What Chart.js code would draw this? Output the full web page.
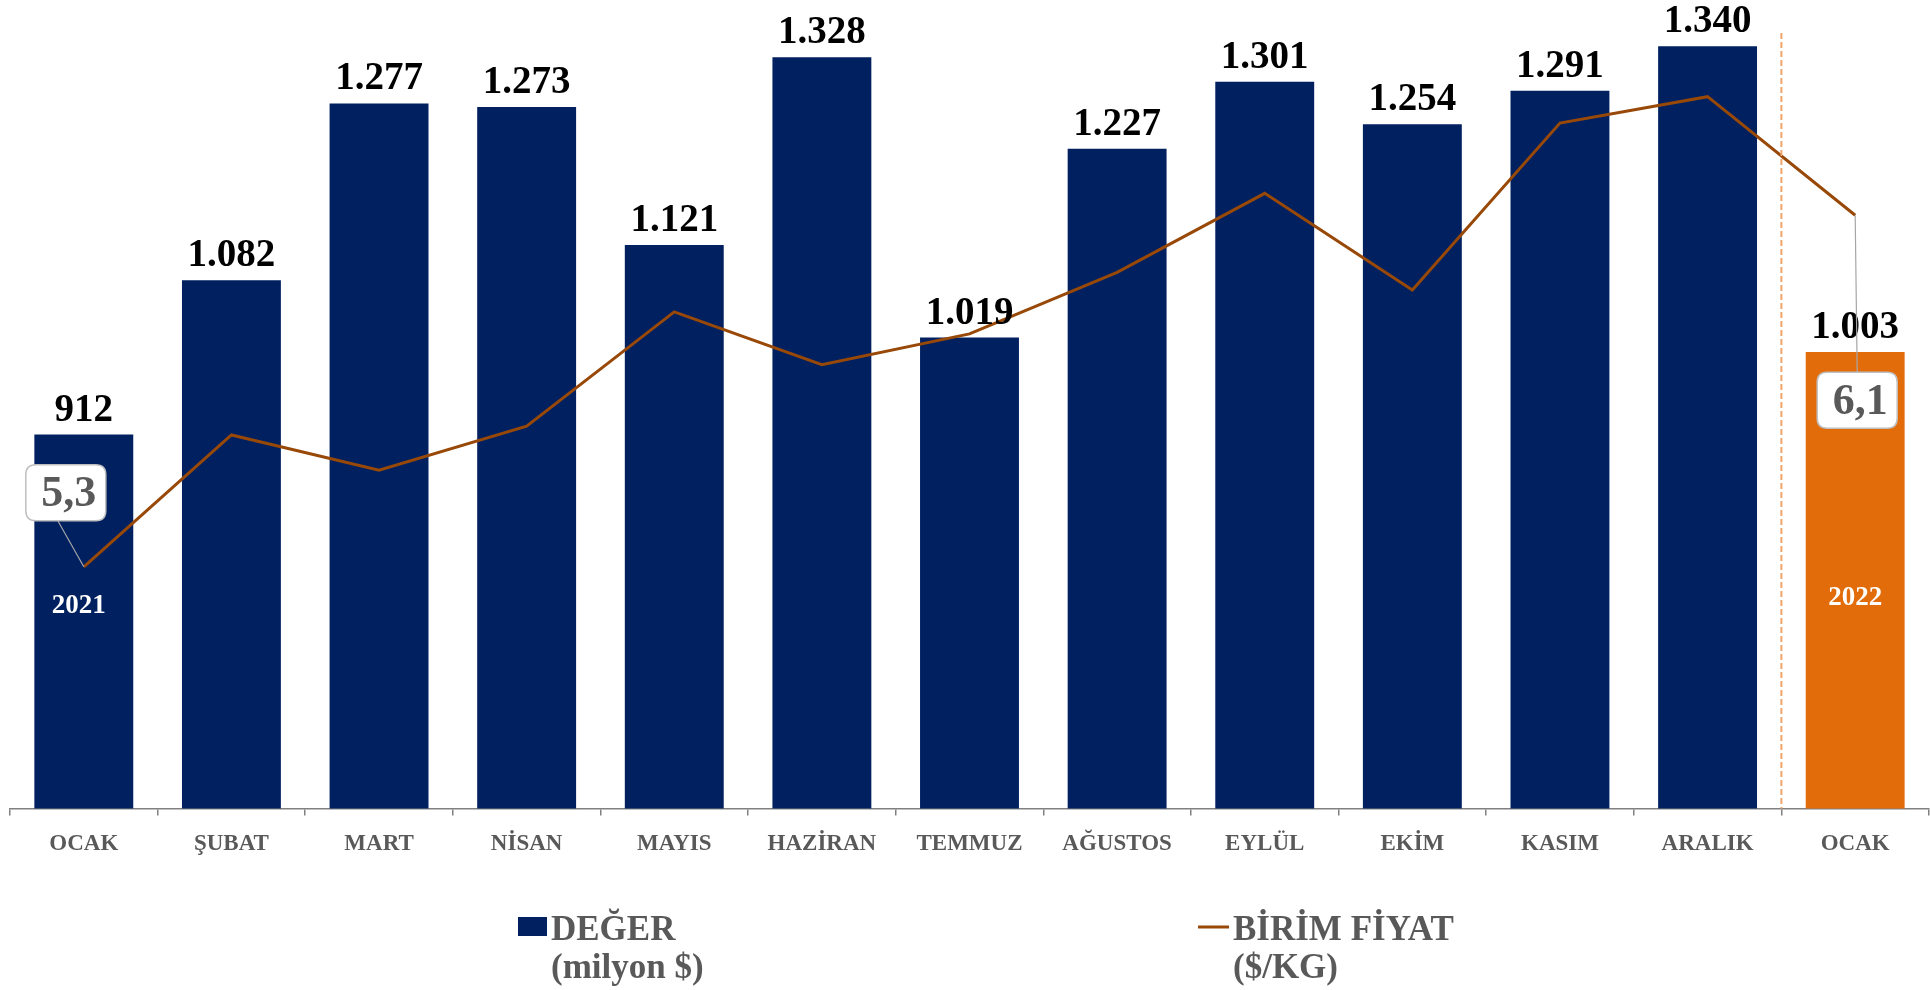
<!DOCTYPE html>
<html>
<head>
<meta charset="utf-8">
<script src="https://cdn.jsdelivr.net/npm/chart.js"></script>
<style>
  html, body { margin: 0; padding: 0; background: #ffffff; }
  #wrap { width: 1931px; height: 990px; position: relative; }
</style>
</head>
<body>
<div id="wrap"><canvas id="exportChart"></canvas></div>
<script>
// Monthly export value (million $) and unit price ($/kg), Jan 2021 - Jan 2022
const months = ['OCAK', 'ŞUBAT', 'MART', 'NİSAN', 'MAYIS', 'HAZİRAN', 'TEMMUZ', 'AĞUSTOS', 'EYLÜL', 'EKİM', 'KASIM', 'ARALIK', 'OCAK'];
const values = [912, 1082, 1277, 1273, 1121, 1328, 1019, 1227, 1301, 1254, 1291, 1340, 1003];
const unitPrices = [5.30, 5.60, 5.52, 5.62, 5.88, 5.76, 5.83, 5.97, 6.15, 5.93, 6.31, 6.37, 6.10];
const yearLabels = ['2021', '', '', '', '', '', '', '', '', '', '', '', '2022'];
const priceLabelIdx = [0, 12];

const NAVY = '#002060';
const ORANGE = '#E36C0A';
const BROWN = '#984807';
const GRAY = '#595959';

const barColors = values.map((v, i) => i === values.length - 1 ? ORANGE : NAVY);

function fmtThousands(v) {
    return v.toLocaleString('de-DE');
}

function roundRect(ctx, x, y, w, h, r) {
    ctx.beginPath();
    ctx.moveTo(x + r, y);
    ctx.lineTo(x + w - r, y);
    ctx.quadraticCurveTo(x + w, y, x + w, y + r);
    ctx.lineTo(x + w, y + h - r);
    ctx.quadraticCurveTo(x + w, y + h, x + w - r, y + h);
    ctx.lineTo(x + r, y + h);
    ctx.quadraticCurveTo(x, y + h, x, y + h - r);
    ctx.lineTo(x, y + r);
    ctx.quadraticCurveTo(x, y, x + r, y);
    ctx.closePath();
}

// draws value labels, year tags, price callouts, separator and the legend
const annotations = {
    id: 'annotations',
    afterDatasetsDraw(chart) {
        const ctx = chart.ctx;
        const area = chart.chartArea;
        const barMeta = chart.getDatasetMeta(0);
        const lineMeta = chart.getDatasetMeta(1);

        ctx.save();

        // dashed separator between 2021 and 2022
        const sepX = (barMeta.data[11].x + barMeta.data[12].x) / 2;
        ctx.strokeStyle = '#F4A46A';
        ctx.lineWidth = 2;
        ctx.setLineDash([6, 3]);
        ctx.beginPath();
        ctx.moveTo(sepX, 33);
        ctx.lineTo(sepX, area.bottom);
        ctx.stroke();
        ctx.setLineDash([]);

        // bar value labels
        ctx.font = 'bold 39px "Liberation Serif"';
        ctx.fillStyle = '#000000';
        ctx.textAlign = 'center';
        ctx.textBaseline = 'alphabetic';
        barMeta.data.forEach((bar, i) => {
            ctx.fillText(fmtThousands(values[i]), bar.x, bar.y - 14);
        });

        // year tags inside first and last bars
        ctx.font = 'bold 27px "Liberation Serif"';
        ctx.fillStyle = '#ffffff';
        ctx.textBaseline = 'middle';
        yearLabels.forEach((t, i) => {
            if (!t) return;
            const bar = barMeta.data[i];
            ctx.fillText(t, bar.x - (i === 0 ? 5 : 0), i === 0 ? 606 : 598);
        });

        // unit price callouts with leader lines
        const offsets = { 0: [-18, -74], 12: [2, 185] };
        priceLabelIdx.forEach(i => {
            const pt = lineMeta.data[i];
            const cx = pt.x + offsets[i][0];
            const cy = pt.y + offsets[i][1];
            const w = 80, h = 56;
            ctx.strokeStyle = '#A6A6A6';
            ctx.lineWidth = 1.2;
            ctx.beginPath();
            ctx.moveTo(pt.x, pt.y);
            ctx.lineTo(cx + (i === 0 ? -8 : 0), cy + (i === 0 ? h / 2 : -h / 2));
            ctx.stroke();
            roundRect(ctx, cx - w / 2, cy - h / 2, w, h, 10);
            ctx.fillStyle = '#ffffff';
            ctx.fill();
            ctx.strokeStyle = '#BFBFBF';
            ctx.lineWidth = 1.5;
            ctx.stroke();
            ctx.fillStyle = GRAY;
            ctx.font = 'bold 44px "Liberation Serif"';
            ctx.textBaseline = 'middle';
            ctx.fillText(unitPrices[i].toFixed(1).replace('.', ','), cx + 3, cy + 2);
        });

        // legend
        ctx.textAlign = 'left';
        ctx.textBaseline = 'alphabetic';
        ctx.fillStyle = NAVY;
        ctx.fillRect(518, 917, 29, 19);
        ctx.strokeStyle = BROWN;
        ctx.lineWidth = 3;
        ctx.beginPath();
        ctx.moveTo(1198, 927);
        ctx.lineTo(1229, 927);
        ctx.stroke();
        ctx.fillStyle = GRAY;
        ctx.font = 'bold 35px "Liberation Serif"';
        ctx.fillText('DEĞER', 551, 940);
        ctx.fillText('(milyon $)', 551, 978);
        ctx.fillText('BİRİM FİYAT', 1233, 940);
        ctx.fillText('($/KG)', 1233, 978);

        ctx.restore();
    }
};

const ctx = document.getElementById('exportChart').getContext('2d');

const chart = new Chart(ctx, {
    data: {
        labels: months,
        datasets: [
            {
                type: 'bar',
                label: 'DEĞER (milyon $)',
                data: values,
                backgroundColor: barColors,
                borderWidth: 0,
                categoryPercentage: 1.0,
                barPercentage: 0.67,
                yAxisID: 'y',
                order: 2
            },
            {
                type: 'line',
                label: 'BİRİM FİYAT ($/KG)',
                data: unitPrices,
                borderColor: BROWN,
                borderWidth: 3,
                pointRadius: 0,
                tension: 0,
                fill: false,
                yAxisID: 'y1',
                order: 1
            }
        ]
    },
    options: {
        responsive: true,
        maintainAspectRatio: false,
        animation: false,
        devicePixelRatio: 1,
        layout: {
            padding: { left: 10, right: 2, top: 0, bottom: 117 }
        },
        plugins: {
            legend: { display: false },
            tooltip: { enabled: false }
        },
        scales: {
            x: {
                offset: true,
                grid: {
                    offset: true,
                    drawOnChartArea: false,
                    drawTicks: true,
                    tickLength: 7,
                    color: '#808080',
                    lineWidth: 1.5
                },
                border: { display: true, color: '#808080', width: 1.5 },
                ticks: {
                    color: GRAY,
                    padding: 15,
                    font: { family: '"Liberation Serif"', weight: 'bold', size: 23 },
                    maxRotation: 0,
                    autoSkip: false
                }
            },
            y: {
                display: false,
                min: 500,
                max: 1391
            },
            y1: {
                display: false,
                position: 'right',
                min: 4.75,
                max: 6.59
            }
        }
    },
    plugins: [annotations]
});
</script>
</body>
</html>
